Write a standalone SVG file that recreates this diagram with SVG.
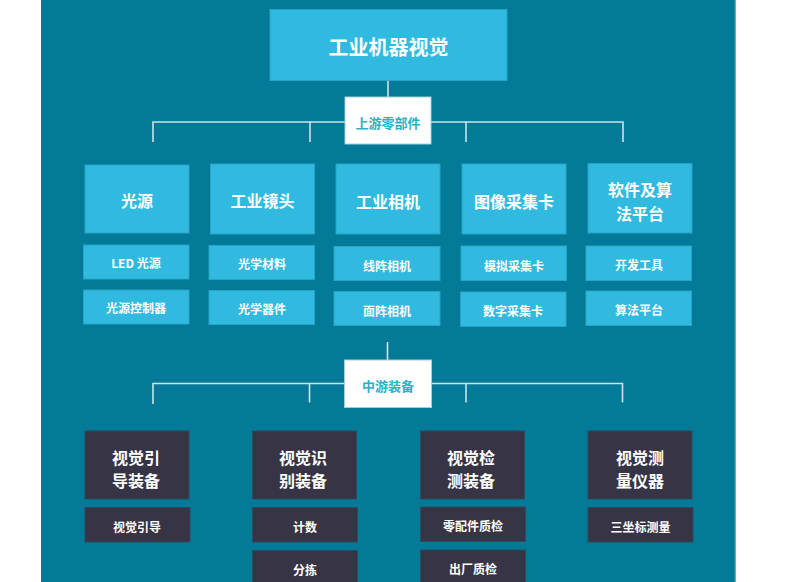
<svg xmlns="http://www.w3.org/2000/svg" width="798" height="582" viewBox="0 0 798 582">
<style>
text{font-family:"Noto Sans CJK SC","Microsoft YaHei",sans-serif;font-weight:bold;text-anchor:middle;dominant-baseline:central}
.c{fill:#31BADF;stroke:#2AA3C6;stroke-width:1}
.d{fill:#373445;stroke:#2E4A5C;stroke-width:1}
.w{fill:#FFFFFF;stroke:#9FCFDB;stroke-width:1}
.t{fill:#FFFFFF}
.big{font-size:16px}
.sub{font-size:12px}
.lab{font-size:13px;fill:#2CB0C6}
.ln{stroke:#D3E2E8;stroke-width:1.6;fill:none}
</style>
<rect x="0" y="0" width="798" height="582" fill="#FFFFFF"/>
<rect x="41" y="0" width="694.5" height="582" fill="#037A97"/>
<line x1="735" y1="0" x2="735" y2="582" stroke="#3FA0BA" stroke-width="1"/>
<g id="connectors">
<path class="ln" d="M388 80V97"/>
<path class="ln" d="M153 142V122H623V142M310 122V142M466 122V142"/>
<path class="ln" d="M387.5 342V360"/>
<path class="ln" d="M153 404V383.5H622.5V402.5M309.5 383.5V402.5M466 383.5V402.5"/>
</g>
<g id="title"><rect class="c" x="270" y="9.5" width="237" height="71"/><text class="t" x="388.5" y="46" font-size="20">工业机器视觉</text></g>
<g id="upstream"><rect class="w" x="345" y="97" width="86" height="47"/><text class="lab" x="388" y="122">上游零部件</text></g>
<g id="n-guangyuan"><rect class="c" x="85" y="165" width="104" height="68"/><text class="t big" x="137" y="200">光源</text></g>
<g id="n-jingtou"><rect class="c" x="210.5" y="164" width="104" height="70"/><text class="t big" x="262.5" y="200">工业镜头</text></g>
<g id="n-xiangji"><rect class="c" x="336" y="164" width="104" height="70"/><text class="t big" x="388" y="201">工业相机</text></g>
<g id="n-caiji"><rect class="c" x="462" y="164" width="104" height="70"/><text class="t big" x="514" y="201">图像采集卡</text></g>
<g id="n-ruanjian"><rect class="c" x="588" y="163.5" width="104" height="69.5"/><text class="t big" x="640" y="189">软件及算</text><text class="t big" x="640" y="212.5">法平台</text></g>
<g id="n-led"><rect class="c" x="83.5" y="245" width="105.5" height="34"/><text class="t sub" x="136" y="262.5">LED 光源</text></g>
<g id="n-kzq"><rect class="c" x="83.5" y="290" width="105.5" height="34"/><text class="t sub" x="136" y="307.5">光源控制器</text></g>
<g id="n-clcl"><rect class="c" x="209" y="245.5" width="105.5" height="34"/><text class="t sub" x="262" y="263">光学材料</text></g>
<g id="n-qj"><rect class="c" x="209" y="290.5" width="105.5" height="34"/><text class="t sub" x="262" y="308">光学器件</text></g>
<g id="n-xz"><rect class="c" x="334" y="246.5" width="106" height="34"/><text class="t sub" x="387" y="265">线阵相机</text></g>
<g id="n-mz"><rect class="c" x="334" y="291.5" width="106" height="34"/><text class="t sub" x="387" y="310">面阵相机</text></g>
<g id="n-mn"><rect class="c" x="461" y="246" width="105.5" height="34.5"/><text class="t sub" x="514" y="265">模拟采集卡</text></g>
<g id="n-sz"><rect class="c" x="460.5" y="292" width="105.5" height="34.5"/><text class="t sub" x="513" y="310.5">数字采集卡</text></g>
<g id="n-kf"><rect class="c" x="586" y="246" width="105.5" height="34.5"/><text class="t sub" x="639" y="264">开发工具</text></g>
<g id="n-sf"><rect class="c" x="586" y="291" width="105.5" height="34.5"/><text class="t sub" x="639" y="309">算法平台</text></g>
<g id="midstream"><rect class="w" x="344.5" y="360" width="87" height="47.5"/><text class="lab" x="388" y="385">中游装备</text></g>
<g id="n-yd"><rect class="d" x="85" y="431" width="104" height="68"/><text class="t big" x="136" y="457">视觉引</text><text class="t big" x="136" y="479.5">导装备</text></g>
<g id="n-sb"><rect class="d" x="252.5" y="431" width="104" height="68"/><text class="t big" x="303" y="457">视觉识</text><text class="t big" x="303" y="479.5">别装备</text></g>
<g id="n-jc"><rect class="d" x="420.5" y="431" width="104" height="68"/><text class="t big" x="471" y="457">视觉检</text><text class="t big" x="471" y="479.5">测装备</text></g>
<g id="n-cl"><rect class="d" x="588" y="431" width="104" height="68"/><text class="t big" x="640" y="457">视觉测</text><text class="t big" x="640" y="479.5">量仪器</text></g>
<g id="n-ydsub"><rect class="d" x="85" y="507.5" width="105" height="34.5"/><text class="t sub" x="137" y="526">视觉引导</text></g>
<g id="n-js"><rect class="d" x="252.5" y="507.5" width="105" height="34.5"/><text class="t sub" x="305" y="526">计数</text></g>
<g id="n-fj"><rect class="d" x="252.5" y="550.5" width="105" height="34.5"/><text class="t sub" x="305" y="569">分拣</text></g>
<g id="n-ljj"><rect class="d" x="420.5" y="507" width="105" height="34.5"/><text class="t sub" x="473" y="525">零配件质检</text></g>
<g id="n-cc"><rect class="d" x="420.5" y="550" width="105" height="34.5"/><text class="t sub" x="473" y="568.5">出厂质检</text></g>
<g id="n-szb"><rect class="d" x="588" y="507.5" width="105" height="34.5"/><text class="t sub" x="640.5" y="526">三坐标测量</text></g>
</svg>
